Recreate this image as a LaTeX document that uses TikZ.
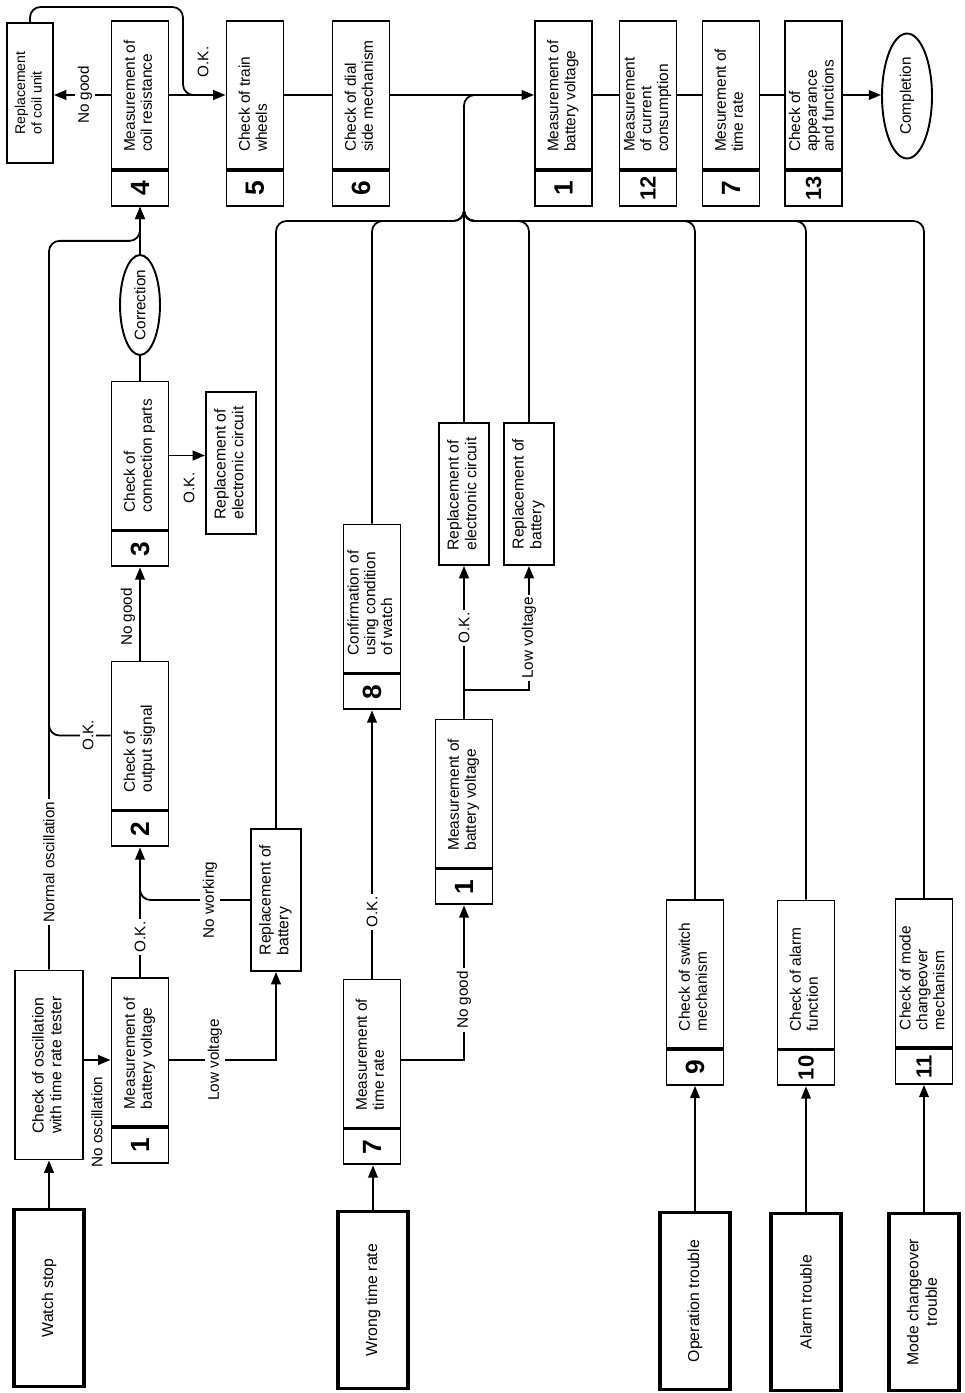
\documentclass[tikz,border=0pt]{standalone}
\usepackage{fontspec}
\setmainfont{Liberation Sans}
\usepackage{graphicx}
\usetikzlibrary{arrows.meta, shapes.geometric, calc}

\newcommand{\vrot}[1]{\rotatebox{90}{#1}}
\newcommand{\uptxt}[1]{\rotatebox{90}{\begin{tabular}{@{}l@{}}#1\end{tabular}}}
\newcommand{\upctr}[1]{\rotatebox{90}{\begin{tabular}{@{}c@{}}#1\end{tabular}}}
\newcommand{\upstep}[1]{\rotatebox{90}{\makebox[2.28cm][l]{\begin{tabular}{@{}l@{}}#1\end{tabular}}}}

\tikzset{
  every picture/.style={line width=1pt},
  stepbox/.style={draw, line width=1.1pt, minimum width=1.14cm, minimum height=2.96cm, inner sep=0pt, font=\fontsize{8.8}{9.6}\selectfont},
  numcell/.style={draw, line width=1.1pt, minimum width=1.14cm, minimum height=0.70cm, inner sep=0pt, anchor=north, font=\bfseries\fontsize{15}{15}\selectfont},
  twodig/.style={font=\bfseries\fontsize{12.5}{12.5}\selectfont},
  fixbox/.style={draw, line width=1.1pt, minimum width=1.0cm, minimum height=2.84cm, inner sep=0pt, font=\fontsize{9}{10}\selectfont},
  startbox/.style={draw, line width=2pt, minimum width=1.4cm, minimum height=3.54cm, inner sep=0pt, font=\fontsize{9}{10.5}\selectfont},
  endcap/.style={draw, ellipse, line width=1.1pt, inner sep=0pt, font=\fontsize{8.7}{10}\selectfont},
  lab/.style={fill=white, inner sep=1.5pt, font=\fontsize{8.7}{10}\selectfont},
  link/.style={draw, line width=1pt},
  arr/.style={-{Triangle[length=7pt, width=5.5pt]}, line width=1pt},
}

\begin{document}
\begin{tikzpicture}[x=0.02cm, y=-0.02cm]
  \useasboundingbox (0,0) rectangle (964,1393);

  % top row
  \node[fixbox, minimum width=0.92cm, minimum height=2.8cm, font=\fontsize{8}{9.4}\selectfont] (coil) at (30,93) {\uptxt{Replacement\\of coil unit}};
  \node[stepbox] (b4) at (140,95) {\upstep{Measurement of\\coil resistance}};
  \node[numcell] (b4n) at (b4.south) {\vrot{4}};
  \node[stepbox] (b5) at (255,95) {\upstep{Check of train\\wheels}};
  \node[numcell] (b5n) at (b5.south) {\vrot{5}};
  \node[stepbox] (b6) at (361,95) {\upstep{Check of dial\\side mechanism}};
  \node[numcell] (b6n) at (b6.south) {\vrot{6}};
  \node[stepbox] (t1) at (563.5,95) {\upstep{Measurement of\\battery voltage}};
  \node[numcell] (t1n) at (t1.south) {\vrot{1}};
  \node[stepbox] (t12) at (648,95) {\upstep{Measurement\\of current\\consumption}};
  \node[numcell, twodig] (t12n) at (t12.south) {\vrot{12}};
  \node[stepbox] (t7) at (731,95) {\upstep{Mesurement of\\time rate}};
  \node[numcell] (t7n) at (t7.south) {\vrot{7}};
  \node[stepbox] (t13) at (813.5,95) {\upstep{Check of\\appearance\\and functions}};
  \node[numcell, twodig] (t13n) at (t13.south) {\vrot{13}};
  \node[endcap, minimum width=1.0cm, minimum height=2.5cm] (done) at (907,96) {\vrot{Completion}};

  % watch stop
  \node[startbox] (ws) at (49,1298) {\vrot{Watch stop}};
  \node[fixbox, minimum width=1.36cm, minimum height=3.78cm] (osc) at (49,1065) {\uptxt{Check of oscillation\\with time rate tester}};
  \node[stepbox] (b1) at (140,1052) {\upstep{Measurement of\\battery voltage}};
  \node[numcell] (b1n) at (b1.south) {\vrot{1}};
  \node[stepbox] (b2) at (140,735.5) {\upstep{Check of\\output signal}};
  \node[numcell] (b2n) at (b2.south) {\vrot{2}};
  \node[stepbox] (b3) at (140,455.5) {\upstep{Check of\\connection parts}};
  \node[numcell] (b3n) at (b3.south) {\vrot{3}};
  \node[endcap, minimum width=0.8cm, minimum height=2.0cm] (corr) at (140,305) {\vrot{Correction}};
  \node[fixbox] (rc1) at (231,463) {\uptxt{Replacement of\\electronic circuit}};
  \node[fixbox] (rb1) at (276,900) {\uptxt{Replacement of\\battery}};

  % wrong time rate
  \node[startbox] (wt) at (373,1300) {\vrot{Wrong time rate}};
  \node[stepbox] (b7) at (372,1053.5) {\upstep{Measurement of\\time rate}};
  \node[numcell] (b7n) at (b7.south) {\vrot{7}};
  \node[stepbox] (b8) at (372,598.5) {\upstep{Confirmation of\\using condition\\of watch}};
  \node[numcell] (b8n) at (b8.south) {\vrot{8}};
  \node[stepbox] (m1) at (464,793.5) {\upstep{Measurement of\\battery voltage}};
  \node[numcell] (m1n) at (m1.south) {\vrot{1}};
  \node[fixbox] (rc2) at (464,494) {\uptxt{Replacement of\\electronic circuit}};
  \node[fixbox] (rb2) at (529,494) {\uptxt{Replacement of\\battery}};

  % other troubles
  \node[startbox] (op) at (695,1301) {\vrot{Operation trouble}};
  \node[stepbox] (b9) at (695,974) {\upstep{Check of switch\\mechanism}};
  \node[numcell] (b9n) at (b9.south) {\vrot{9}};
  \node[startbox] (al) at (806,1302) {\vrot{Alarm trouble}};
  \node[stepbox] (b10) at (806,974.5) {\upstep{Check of alarm\\function}};
  \node[numcell, twodig] (b10n) at (b10.south) {\vrot{10}};
  \node[startbox] (mc) at (924,1302) {\upctr{Mode changeover\\trouble}};
  \node[stepbox] (b11) at (924,973) {\upstep{Check of mode\\changeover\\mechanism}};
  \node[numcell, twodig] (b11n) at (b11.south) {\vrot{11}};

  \coordinate (bus) at (464,221);
  \coordinate (ovr) at (183,7);
  \coordinate (lvrow) at (0,1060);
  \coordinate (split) at (0,690);

  % main line
  \draw[arr] (b4.east) -- (b5.west);
  \draw[link] (b5.east) -- (b6.west);
  \draw[arr] (b6.east) -- (t1.west);
  \draw[link] (t1.east) -- (t12.west);
  \draw[link] (t12.east) -- (t7.west);
  \draw[link] (t7.east) -- (t13.west);
  \draw[arr] (t13.east) -- (t13.east -| done.west);
  \draw[arr] (b4.west) -- (b4.west -| coil.east);
  \draw[link, rounded corners=6pt] (coil.north) |- (ovr) -- (ovr |- b5.west) -- ++(22,0);

  % watch stop branch
  \draw[arr] (ws.north) -- (osc.south);
  \draw[arr] (osc.east |- lvrow) -- (b1.west |- lvrow);
  \draw[arr, rounded corners=6pt] (osc.north) |- ([yshift=-0.68cm]b4n.south) -- (b4n.south);
  \draw[link, rounded corners=6pt] (b2.west) -- (b2.west -| osc.north) -- ++(0,-30);
  \draw[arr] (b1.north) -- (b2n.south);
  \draw[link, rounded corners=6pt] (rb1.west) -- (rb1.west -| b1.north) -- ++(0,-30);
  \draw[arr] (b1.east |- lvrow) -| (rb1.south);
  \draw[arr] (b2.north) -- (b3n.south);
  \draw[arr] (b3.east) -- (b3.east -| rc1.west);
  \draw[link] (b3.north) -- (corr.south);
  \draw[arr] (corr.north) -- (b4n.south);

  % wrong time rate branch
  \draw[arr] (wt.north) -- (wt.north |- b7n.south);
  \draw[arr] (b7.north) -- (b8n.south);
  \draw[arr] (b7.east |- lvrow) -| (m1n.south);
  \draw[arr] (m1.north) -- (rc2.south);
  \draw[arr] (m1.north |- split) -| (rb2.south);

  % trouble branches
  \draw[arr] (op.north) -- (b9n.south);
  \draw[arr] (al.north) -- (b10n.south);
  \draw[arr] (mc.north) -- (b11n.south);

  % return bus
  \draw[link, rounded corners=6pt] (rc2.north) -- (rc2.north |- b6.east) -- ++(25,0);
  \foreach \src in {rb1, b8, rb2, b9, b10, b11}
    \draw[link, rounded corners=6pt] (\src.north) |- (bus) -- ++(0,-25);

  % labels
  \node[lab] (lnosc) at (97,1122) {\vrot{No oscillation}};
  \node[lab] (lnorm) at (49,862) {\vrot{Normal oscillation}};
  \node[lab] (lok2) at (88,735.5) {\vrot{O.K.}};
  \node[lab] (lok1) at (140,937) {\vrot{O.K.}};
  \node[lab] (lnowk) at (210,900) {\vrot{No working}};
  \node[lab] (llow1) at (215,1060) {\vrot{Low voltage}};
  \node[lab, fill=none] (lng2) at (128,617) {\vrot{No good}};
  \node[lab] (lok3) at (189,488) {\vrot{O.K.}};
  \node[lab] (lng4) at (85,95) {\vrot{No good}};
  \node[lab] (lok4) at (203,62) {\vrot{O.K.}};
  \node[lab] (lok7) at (372,912) {\vrot{O.K.}};
  \node[lab] (lng7) at (464,1000) {\vrot{No good}};
  \node[lab] (lokm) at (464,628) {\vrot{O.K.}};
  \node[lab] (llow2) at (529,638) {\vrot{Low voltage}};
\end{tikzpicture}
\end{document}
